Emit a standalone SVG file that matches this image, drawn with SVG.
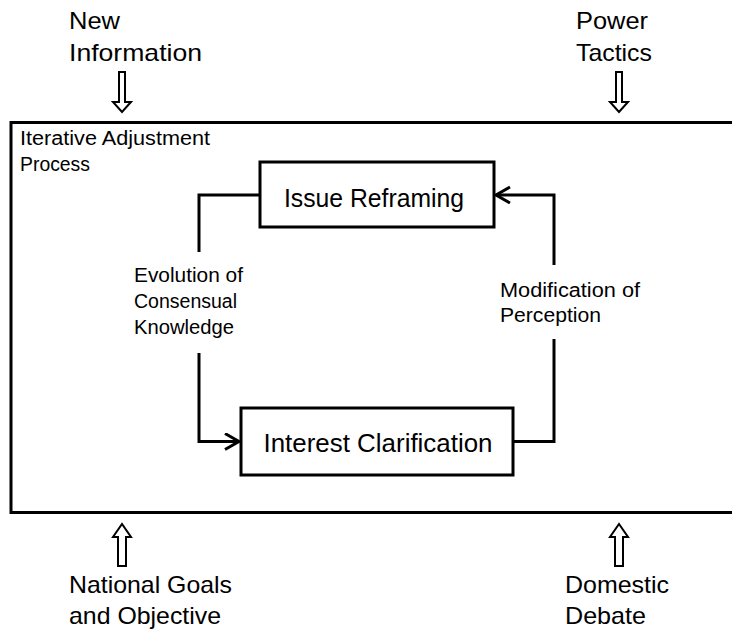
<svg xmlns="http://www.w3.org/2000/svg" width="732" height="631" viewBox="0 0 732 631">
<defs>
<style>
text{font-family:"Liberation Sans",Arial,sans-serif;fill:#000}
.big{font-size:24px}
.mid{font-size:20px}
.box{fill:#fff;stroke:#000;stroke-width:3}
.ln{fill:none;stroke:#000;stroke-width:3}
.blk{fill:#fff;stroke:#000;stroke-width:2;stroke-linejoin:miter}
</style>
<marker id="open" markerWidth="18" markerHeight="20" refX="15" refY="9" orient="auto" markerUnits="userSpaceOnUse">
<path d="M1,1 L15,9 L1,17" fill="none" stroke="#000" stroke-width="3"/>
</marker>
</defs>
<rect width="732" height="631" fill="#fff"/>
<g id="outer">
<rect x="11" y="122.5" width="730" height="390" class="box"/>
<text class="mid" x="20" y="145" textLength="190" lengthAdjust="spacingAndGlyphs">Iterative Adjustment</text>
<text class="mid" x="20" y="171" textLength="70" lengthAdjust="spacingAndGlyphs">Process</text>
</g>
<g id="new-information">
<text class="big" x="69" y="29" textLength="51" lengthAdjust="spacingAndGlyphs">New</text>
<text class="big" x="69" y="61" textLength="133" lengthAdjust="spacingAndGlyphs">Information</text>
</g>
<g id="power-tactics">
<text class="big" x="576" y="29" textLength="72" lengthAdjust="spacingAndGlyphs">Power</text>
<text class="big" x="576" y="61" textLength="76" lengthAdjust="spacingAndGlyphs">Tactics</text>
</g>
<g id="national-goals">
<text class="big" x="69" y="593" textLength="163" lengthAdjust="spacingAndGlyphs">National Goals</text>
<text class="big" x="69" y="624" textLength="152" lengthAdjust="spacingAndGlyphs">and Objective</text>
</g>
<g id="domestic-debate">
<text class="big" x="565" y="593" textLength="104" lengthAdjust="spacingAndGlyphs">Domestic</text>
<text class="big" x="565" y="624" textLength="81" lengthAdjust="spacingAndGlyphs">Debate</text>
</g>
<g id="issue-reframing">
<rect x="260" y="162" width="234" height="65" class="box"/>
<text class="big" x="374" y="207" text-anchor="middle" textLength="180" lengthAdjust="spacingAndGlyphs" style="font-size:25px">Issue Reframing</text>
</g>
<g id="interest-clarification">
<rect x="241" y="408" width="272" height="67" class="box"/>
<text class="big" x="378" y="452" text-anchor="middle" textLength="229" lengthAdjust="spacingAndGlyphs" style="font-size:25px">Interest Clarification</text>
</g>
<g id="connectors">
<path class="blk" d="M119,72 H125 V102 H131 L122,112 L113,102 H119 Z"/>
<path class="blk" d="M616,72 H622 V102 H628 L619,112 L610,102 H616 Z"/>
<path class="blk" d="M118,566 H126 V537 H131 L122,524 L113,537 H118 Z"/>
<path class="blk" d="M615,566 H623 V537 H628 L619,524 L610,537 H615 Z"/>
<polyline class="ln" points="260,195 199,195 199,252"/>
<polyline class="ln" points="199,353 199,441.5 239,441.5" marker-end="url(#open)"/>
<polyline class="ln" points="513,441.5 554,441.5 554,339"/>
<polyline class="ln" points="554,265 554,195 496,195" marker-end="url(#open)"/>
<text class="mid" x="134" y="282" textLength="109" lengthAdjust="spacingAndGlyphs">Evolution of</text>
<text class="mid" x="134" y="308" textLength="103" lengthAdjust="spacingAndGlyphs">Consensual</text>
<text class="mid" x="134" y="334" textLength="100" lengthAdjust="spacingAndGlyphs">Knowledge</text>
<text class="mid" x="500" y="297" textLength="140" lengthAdjust="spacingAndGlyphs">Modification of</text>
<text class="mid" x="500" y="322" textLength="101" lengthAdjust="spacingAndGlyphs">Perception</text>
</g>
</svg>
